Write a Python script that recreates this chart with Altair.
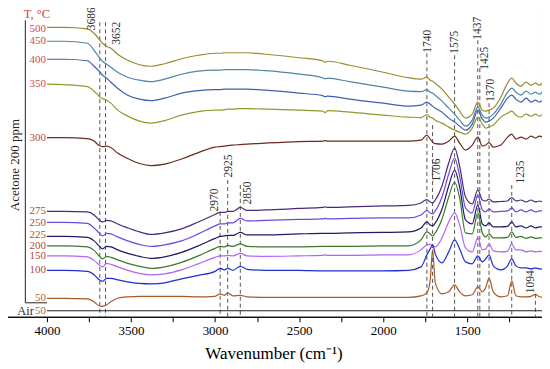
import altair as alt
import pandas as pd

# wavenumber grid (cm-1)
W = [4000, 3900, 3760, 3720, 3690, 3670, 3645, 3620, 3580, 3520, 3450, 3380, 3300, 3200, 3100, 3000,
     2970, 2945, 2925, 2895, 2850, 2810, 2700, 2500, 2360, 2345, 2330, 2200, 2000, 1850, 1775, 1740,
     1720, 1706, 1690, 1650, 1610, 1575, 1545, 1510, 1470, 1437, 1410, 1390, 1370, 1345, 1300, 1260,
     1235, 1210, 1180, 1150, 1120, 1094, 1070, 1050]

# stacked spectra, offset depth (a.u., larger = lower on the chart)
c500 = [27, 27, 28.5, 33, 39, 43, 46, 48, 54, 60, 64.5, 66, 63.5, 58.5, 55, 53,
        53, 52.5, 52.5, 52.5, 52.5, 52.5, 54, 57.5, 60.5, 62, 61, 65, 72, 77.5, 79, 77,
        80, 81, 83, 89, 97, 104, 111, 118, 114, 102, 110, 111, 110, 108, 97, 83,
        78, 83, 86, 82, 85, 83, 85, 82]
c450 = [41, 41, 43, 50, 57, 61, 64, 67, 72, 77, 80, 81.5, 79, 74, 71, 70,
        70, 69.5, 69.5, 69.5, 69.5, 69.5, 70.5, 74, 77.5, 78.5, 78, 81.5, 87, 91, 91.5, 89.5,
        92, 93, 95, 101, 108, 114, 120, 126, 120, 107, 115, 118, 117, 114, 104, 92,
        88, 92, 95, 91, 94, 92, 94, 91]
c400 = [59, 59, 60.5, 66, 71, 75, 78, 82, 88, 95, 99, 100.5, 98, 93, 90.5, 89.5,
        89.5, 89, 89, 89, 89, 89, 90, 93, 95.5, 96.5, 96, 99, 103, 106, 105, 102,
        104, 106, 108, 112, 118, 122, 126, 130, 124, 110, 119, 122, 121, 118, 108, 98,
        95, 99, 102, 98, 102, 100, 102, 100]
c350 = [84, 84.5, 86.5, 91, 96, 98.5, 100, 103, 110, 116, 121, 123, 120.5, 115, 111.5, 110,
        110, 109.5, 109, 109, 108.5, 108.5, 109, 110, 111, 112.5, 110.5, 112, 115, 117, 117.5, 114.5,
        117, 118, 120, 123, 127, 130, 132, 134, 128, 117, 124, 128, 127, 125, 117, 113,
        111, 115, 117, 114, 116, 114, 116, 114]
c300 = [137.5, 137.5, 138.5, 141, 145.5, 146.5, 146, 147.5, 153, 158.5, 163.5, 165.5, 164, 159, 152.5, 147,
        146.5, 146, 145.5, 145, 144.5, 144, 143, 141.5, 141, 140.5, 141, 141, 141, 141, 140, 135,
        139, 142, 143.5, 144, 141, 136, 143, 150, 145, 137, 146, 145, 142.5, 147, 145, 137,
        134, 139, 137, 139, 136, 138, 136, 137]
c275 = [211.5, 211.5, 212, 215, 220, 222, 220.5, 221, 224, 228, 232, 234.5, 233, 229, 222, 214.5,
        212.5, 212.5, 211.5, 211.5, 207.5, 210.5, 210, 208.5, 207.5, 207, 207.5, 207, 206, 205.5, 203, 199.5,
        202, 203, 200, 186, 163, 148, 166, 197, 204, 190, 200, 201, 199, 202, 201.5, 201,
        197.5, 201, 200, 202, 200, 202, 201, 202]
c250 = [222.5, 222.5, 223.5, 228, 233, 236, 233.5, 234, 237, 241, 244.5, 246.5, 245, 241, 234, 226,
        224, 224, 223, 223, 218.5, 221, 220.5, 219.5, 219, 218.5, 219, 218.5, 218, 218, 215, 210.5,
        213, 214, 211, 197, 174, 158, 176, 208, 213, 195, 210, 212, 209, 212, 211.5, 211,
        208, 212, 210, 212, 210, 212, 211, 211]
c225 = [236.5, 236.5, 237.5, 241, 246, 249, 246.5, 247, 250, 253.5, 256.5, 258.5, 257, 252.5, 246, 238.5,
        236.5, 236, 235.5, 235.5, 232.5, 235, 235, 234, 233.5, 233.5, 233.5, 233, 232.5, 232, 228, 222,
        225, 226, 223, 209, 186, 170, 187, 220, 224, 205, 224, 226, 223, 227, 227, 226.5,
        222, 227, 226, 228, 226, 228, 227, 227]
c200 = [246, 246, 247, 250.5, 256, 259, 256.5, 257.5, 260, 263.5, 266.5, 268.5, 267, 262.5, 256, 248.5,
        246.5, 247, 245.5, 246.5, 244, 246.5, 247, 247, 246.5, 246.5, 246.5, 246.5, 246, 246, 240, 232,
        234, 236, 233, 219, 197, 182, 198, 233, 234, 213, 233, 237, 234, 238, 238, 237.5,
        232, 237.5, 236.5, 238.5, 237, 238.5, 238, 238]
c150 = [256, 256, 257, 260.5, 265, 267, 263.5, 264.5, 267, 270.5, 273.5, 275, 274, 270, 264, 257.5,
        256, 256, 255.5, 256, 253.5, 256, 256.5, 256, 255.5, 255, 255.5, 255.5, 255, 255, 250, 245,
        244.5, 246, 247, 238, 222, 213, 225, 248, 252, 238, 250, 249, 244, 251, 252, 251.5,
        244, 250, 250, 252, 251, 252, 251.5, 252]
c100 = [270.5, 270.5, 271.5, 275, 280, 281.5, 278.5, 278.5, 280, 282, 283.5, 284, 283, 279, 275.5, 271.5,
        268.5, 270, 268.5, 270.5, 266.5, 269.5, 270.5, 270.5, 271, 271, 271, 271, 271, 270.5, 267, 255,
        249, 245, 254, 263, 252, 240, 249, 262, 264, 256, 262, 259, 255, 266, 270, 266,
        259, 266, 268, 268, 269, 268, 269, 269]
c50 = [298.5, 298.5, 299, 302, 306, 306.5, 305, 302, 298.5, 297, 296.5, 296.5, 296.5, 296.5, 297, 296.5,
       294, 295.5, 293, 296, 295.5, 297, 297.5, 297.5, 297.5, 297.5, 297.5, 297.5, 297.5, 297.5, 296, 293,
       280, 250, 283, 294, 292, 285, 292, 296, 295, 287, 292, 288, 278, 292, 297, 296,
       281, 296, 297, 297, 296.5, 294.5, 297, 297.5]
air_w = [4000, 1050]
air_v = [311, 311]

series_names = ["500", "450", "400", "350", "300", "275", "250", "225", "200", "150", "100", "50", "Air"]
series_vals = [c500, c450, c400, c350, c300, c275, c250, c225, c200, c150, c100, c50]
series_colors = ["#9c8a30", "#4f86a8", "#3f5fb0", "#8e9c2c", "#6b2b1f", "#4a2a7a", "#6a48e0",
                 "#1c1c6a", "#3b7a2a", "#b066f0", "#2030d0", "#a85a28", "#222222"]

# curve labels (temperature, left side)
lab_text = ["500", "450", "400", "350", "300", "275", "250", "225", "200", "150", "100", "50", "50"]
lab_v = [29, 41, 60, 84, 137.5, 211.5, 223, 235.5, 246, 256.5, 270.5, 298, 311]
lab_colors = ["#cc4a44", "#cc4a44", "#cc4a44", "#cc4a44", "#c0463c", "#b04a3a", "#b04a3a",
              "#b04a3a", "#b04a3a", "#b04a3a", "#b04a3a", "#b8642e", "#b8642e"]

# peak markers
peak_w = [3686, 3652, 2970, 2925, 2850, 1740, 1706, 1575, 1437, 1425, 1370, 1235, 1094]
peak_top = [22, 22, 212, 180, 185, 53, 125, 55, 40, 68, 103, 185, 294]
peak_lab_w = [3731, 3583, 3002, 2918, 2806, 1733, 1679, 1572, 1436, 1395, 1359, 1181, 1122]
peak_lab_v = [18.5, 33, 200, 166, 193, 41, 170, 42, 28, 58, 90, 172, 282]

rows = []
for name, vals in zip(series_names[:-1], series_vals):
    for w, v in zip(W, vals):
        rows.append({"w": w, "v": v, "s": name})
for w, v in zip(air_w, air_v):
    rows.append({"w": w, "v": v, "s": "Air"})
spec = pd.DataFrame(rows)

xsc = alt.Scale(domain=[1055, 4250], reverse=True, nice=False, zero=False)
ysc = alt.Scale(domain=[3, 317], reverse=True, nice=False, zero=False)

xaxis = alt.Axis(values=[4000, 3750, 3500, 3250, 3000, 2750, 2500, 2250, 2000, 1750, 1500, 1250],
                 format="d", labelExpr="datum.value % 500 === 0 ? datum.label : ''",
                 grid=False, domainColor="black", tickColor="black", tickSize=5,
                 labelFont="Liberation Serif", labelFontSize=13, labelColor="black", labelPadding=3,
                 title="Wavenumber (cm\u207b\u00b9)", titleFont="Liberation Serif", titleFontSize=17,
                 titleFontWeight="normal", titleColor="black", titlePadding=8)

X = alt.X("w:Q", scale=xsc, axis=xaxis)
Y = alt.Y("v:Q", scale=ysc, axis=None)

peaks = pd.DataFrame({"w": peak_w, "v": peak_top, "lw": peak_lab_w, "lv": peak_lab_v,
                      "t": [str(p) for p in peak_w]})

dash = alt.Chart(peaks).mark_rule(color="#555555", strokeDash=[4, 3], strokeWidth=1).encode(
    x=X, y=Y, y2=alt.datum(317))

peak_text = alt.Chart(peaks).mark_text(angle=270, font="Liberation Serif", fontSize=11.5,
                                       color="#333333", align="center", baseline="middle").encode(
    x=alt.X("lw:Q", scale=xsc, axis=xaxis), y=alt.Y("lv:Q", scale=ysc, axis=None), text="t:N")

lines = alt.Chart(spec).mark_line(interpolate="monotone", strokeWidth=1.2).encode(
    x=X, y=Y,
    color=alt.Color("s:N", scale=alt.Scale(domain=series_names, range=series_colors), legend=None),
    detail="s:N")

labs = pd.DataFrame({"w": [4006] * len(lab_text), "v": lab_v, "t": lab_text, "c": lab_colors})
lab_layer = alt.Chart(labs).mark_text(align="right", baseline="middle", font="Liberation Serif",
                                      fontSize=11).encode(
    x=X, y=Y, text="t:N", color=alt.Color("c:N", scale=None))

misc = pd.DataFrame({"w": [4060, 4127], "v": [14, 311], "t": ["T, \u00b0C", "Air"],
                     "c": ["#d04040", "#333333"]})
misc_layer = alt.Chart(misc).mark_text(align="center", baseline="middle", font="Liberation Serif",
                                       fontSize=12.5).encode(
    x=X, y=Y, text="t:N", color=alt.Color("c:N", scale=None))

ylab = pd.DataFrame({"w": [4190], "v": [165], "t": ["Acetone 200 ppm"]})
ylab_layer = alt.Chart(ylab).mark_text(angle=270, align="center", baseline="middle",
                                       font="Liberation Serif", fontSize=13, color="#222222").encode(
    x=X, y=Y, text="t:N")

bracket = pd.DataFrame({"w": [4129, 4129], "v": [20, 303], "w2": [4129, 4000], "v2": [303, 303]})
bracket_layer = alt.Chart(bracket).mark_rule(color="#222222", strokeWidth=1).encode(
    x=X, y=Y, x2="w2:Q", y2="v2:Q")

chart = alt.layer(dash, lines, peak_text, lab_layer, misc_layer, ylab_layer, bracket_layer).properties(
    width=538, height=314,
    padding={"left": -3, "top": -5, "right": 0, "bottom": 50},
    autosize=alt.AutoSizeParams(type="none"),
    background="white",
).configure_view(stroke="black", strokeWidth=1)

chart.save("out.html", embed_options={"renderer": "svg", "actions": False})
